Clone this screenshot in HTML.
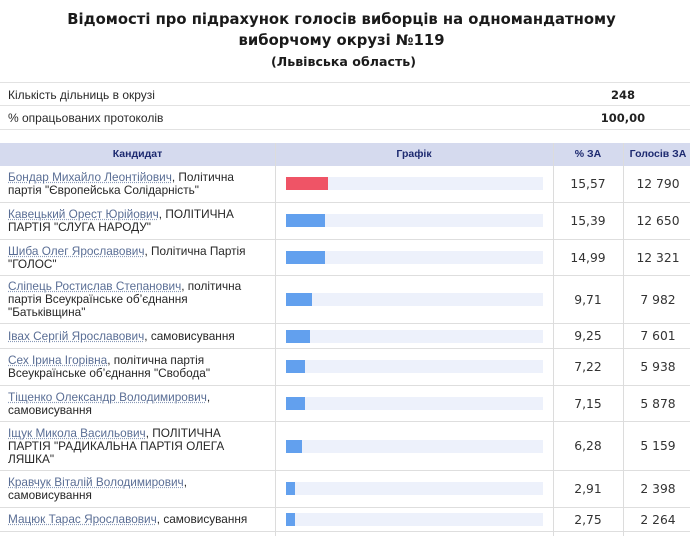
<!DOCTYPE html>
<html><head><meta charset="utf-8">
<style>
*{margin:0;padding:0;box-sizing:border-box}
html,body{width:690px;height:536px;overflow:hidden;background:#fff}
body{position:relative;font-family:"DejaVu Sans","Liberation Sans",sans-serif;color:#2a2a2a}
.t{position:absolute;left:0;width:683px;text-align:center;font-weight:bold;color:#1a1a1a;white-space:nowrap}
.info{position:absolute;left:0;width:693px;height:24px;border-bottom:1px solid #e2e2e2}
.info .l{position:absolute;left:8px;top:5px;line-height:14px;font-family:"Liberation Sans",sans-serif;font-size:12px}
.info .v{position:absolute;left:556px;width:134px;text-align:center;top:5px;line-height:14px;font-weight:bold;color:#222;font-size:11.5px}
.hdr{position:absolute;left:0;top:143px;width:693px;height:23px;background:#d5daee;font-family:"Liberation Sans",sans-serif;font-size:10.5px;font-weight:bold;color:#1d2a70}
.hdr div{position:absolute;top:0;line-height:23px;text-align:center}
.row{position:absolute;left:0;width:693px;border-bottom:1px solid #dedede}
.nm{position:absolute;left:8px;top:0;bottom:0;display:flex;align-items:center;font-family:"Liberation Sans",sans-serif;font-size:11.8px;line-height:13px;white-space:nowrap;color:#262626}
.nm a{color:#5a6e95;text-decoration:underline dotted #8a9ab8;text-underline-offset:1px}
.trk{position:absolute;left:286px;width:257px;height:13px;background:#edf1fb}
.bar{position:absolute;left:0;top:0;height:13px;background:#62a0ee}
.bar.red{background:#ef5466}
.p,.c{position:absolute;top:0;bottom:0;display:flex;align-items:center;justify-content:center;font-size:12.3px;color:#333}
.p{left:553px;width:70px}
.c{left:623px;width:70px}
.vl{position:absolute;top:143px;height:393px;width:1px;background:#dcdcdc}
</style></head><body>

<div class="t" style="top:11px;font-size:14.8px;line-height:18px">Відомості про підрахунок голосів виборців на одномандатному</div>
<div class="t" style="top:32px;font-size:14.8px;line-height:18px">виборчому окрузі №119</div>
<div class="t" style="top:54px;font-size:12.6px;line-height:16px;left:2px">(Львівська область)</div>

<div class="info" style="top:82px;border-top:1px solid #e2e2e2"><div class="l">Кількість дільниць в окрузі</div><div class="v">248</div></div>
<div class="info" style="top:106px"><div class="l">% опрацьованих протоколів</div><div class="v">100,00</div></div>

<div class="hdr">
<div style="left:0;width:275px">Кандидат</div>
<div style="left:275px;width:278px">Графік</div>
<div style="left:553px;width:70px">% ЗА</div>
<div style="left:623px;width:70px">Голосів ЗА</div>
</div>

<div class="row" style="top:166px;height:37px"><div class="nm"><div><a>Бондар Михайло Леонтійович</a>, Політична<br>партія "Європейська Солідарність"</div></div><div class="trk" style="top:11px"><div class="bar red" style="width:42px"></div></div><div class="p">15,57</div><div class="c">12 790</div></div>

<div class="row" style="top:203px;height:37px"><div class="nm"><div><a>Кавецький Орест Юрійович</a>, ПОЛІТИЧНА<br>ПАРТІЯ "СЛУГА НАРОДУ"</div></div><div class="trk" style="top:11px"><div class="bar" style="width:39px"></div></div><div class="p">15,39</div><div class="c">12 650</div></div>

<div class="row" style="top:240px;height:36px"><div class="nm"><div><a>Шиба Олег Ярославович</a>, Політична Партія<br>"ГОЛОС"</div></div><div class="trk" style="top:11px"><div class="bar" style="width:39px"></div></div><div class="p">14,99</div><div class="c">12 321</div></div>

<div class="row" style="top:276px;height:48px"><div class="nm"><div><a>Сліпець Ростислав Степанович</a>, політична<br>партія Всеукраїнське об’єднання<br>"Батьківщина"</div></div><div class="trk" style="top:17px"><div class="bar" style="width:26px"></div></div><div class="p">9,71</div><div class="c">7 982</div></div>

<div class="row" style="top:324px;height:25px"><div class="nm"><div><a>Івах Сергій Ярославович</a>, самовисування</div></div><div class="trk" style="top:6px"><div class="bar" style="width:23.5px"></div></div><div class="p">9,25</div><div class="c">7 601</div></div>

<div class="row" style="top:349px;height:37px"><div class="nm"><div><a>Сех Ірина Ігорівна</a>, політична партія<br>Всеукраїнське об’єднання "Свобода"</div></div><div class="trk" style="top:11px"><div class="bar" style="width:18.5px"></div></div><div class="p">7,22</div><div class="c">5 938</div></div>

<div class="row" style="top:386px;height:36px"><div class="nm"><div><a>Тіщенко Олександр Володимирович</a>,<br>самовисування</div></div><div class="trk" style="top:11px"><div class="bar" style="width:18.5px"></div></div><div class="p">7,15</div><div class="c">5 878</div></div>

<div class="row" style="top:422px;height:49px"><div class="nm"><div><a>Іщук Микола Васильович</a>, ПОЛІТИЧНА<br>ПАРТІЯ "РАДИКАЛЬНА ПАРТІЯ ОЛЕГА<br>ЛЯШКА"</div></div><div class="trk" style="top:18px"><div class="bar" style="width:16px"></div></div><div class="p">6,28</div><div class="c">5 159</div></div>

<div class="row" style="top:471px;height:37px"><div class="nm"><div><a>Кравчук Віталій Володимирович</a>,<br>самовисування</div></div><div class="trk" style="top:11px"><div class="bar" style="width:8.5px"></div></div><div class="p">2,91</div><div class="c">2 398</div></div>

<div class="row" style="top:508px;height:24px"><div class="nm"><div><a>Мацюк Тарас Ярославович</a>, самовисування</div></div><div class="trk" style="top:5px"><div class="bar" style="width:8.5px"></div></div><div class="p">2,75</div><div class="c">2 264</div></div>

<div class="vl" style="left:275px"></div>
<div class="vl" style="left:553px"></div>
<div class="vl" style="left:623px"></div>

</body></html>
